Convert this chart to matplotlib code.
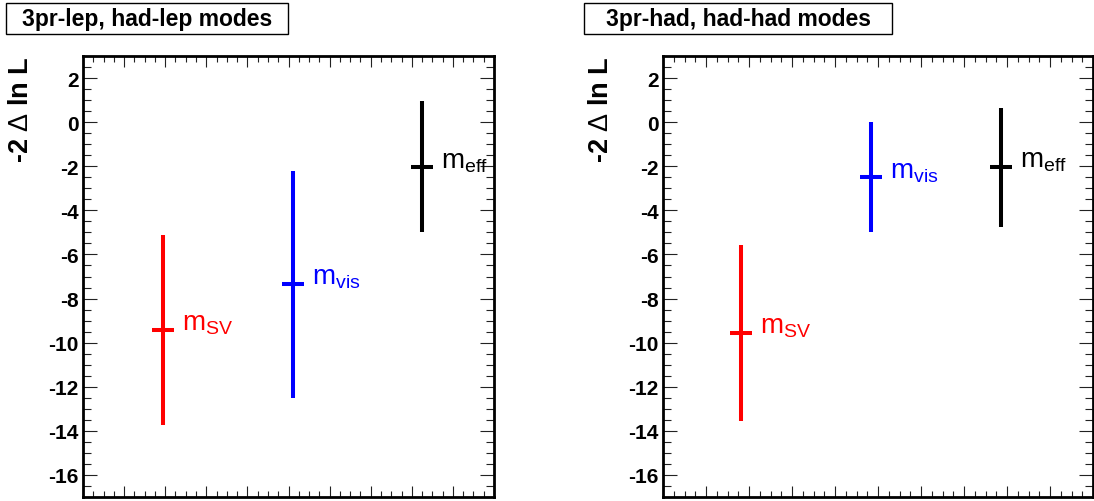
import numpy as np
import matplotlib
matplotlib.use("Agg")
import matplotlib.pyplot as plt
from matplotlib.patches import Rectangle
from matplotlib.ticker import MultipleLocator, NullFormatter

plt.rcParams['font.family'] = ['Liberation Sans', 'DejaVu Sans']
plt.rcParams['mathtext.fontset'] = 'custom'
plt.rcParams['mathtext.rm'] = 'Liberation Sans'
plt.rcParams['mathtext.it'] = 'Liberation Sans'
plt.rcParams['axes.unicode_minus'] = False

# data
panel_titles = ['3pr-lep, had-lep modes', '3pr-had, had-had modes']
labels = [r'$\mathrm{m}_{\mathrm{SV}}$', r'$\mathrm{m}_{\mathrm{vis}}$', r'$\mathrm{m}_{\mathrm{eff}}$']
colors = ['#ff0000', '#0000ff', '#000000']

x_left = [1.94, 5.10, 8.26]
center_left = [-9.42, -7.33, -2.05]
top_left = [-5.14, -2.2, 0.95]
bottom_left = [-13.74, -12.5, -4.99]

x_right = [1.82, 4.83, 7.85]
center_right = [-9.56, -2.5, -2.02]
top_right = [-5.59, 0.02, 0.63]
bottom_right = [-13.55, -4.96, -4.76]

panels = [
    (x_left, center_left, top_left, bottom_left),
    (x_right, center_right, top_right, bottom_right),
]

W, H = 1094, 502
fig = plt.figure(figsize=(W / 100, H / 100), dpi=100)

# axes boxes in pixels: (left, right, top, bottom)
boxes = [(83, 494, 57, 498), (663, 1093, 57, 498)]
title_boxes = [(6, 288, 4, 35), (584, 892, 4, 35)]

for i, (xs, cs, tops, bots) in enumerate(panels):
    l, r, t, b = boxes[i]
    ax = fig.add_axes([l / W, 1 - b / H, (r - l) / W, (b - t) / H])
    ax.set_xlim(0, 10)
    ax.set_ylim(-17, 3)

    for x, c, hi, lo, col, lab in zip(xs, cs, tops, bots, colors, labels):
        ax.errorbar([x], [c], yerr=[[c - lo], [hi - c]], fmt='_', color=col,
                    ecolor=col, elinewidth=2.9, capsize=0, markersize=16,
                    markeredgewidth=2.9)
        ax.annotate(lab, (x, c), xytext=(19, 0), textcoords='offset pixels',
                    color=col, fontsize=20, ha='left', va='baseline')

    ax.xaxis.set_major_locator(MultipleLocator(1))
    ax.xaxis.set_minor_locator(MultipleLocator(0.25))
    ax.xaxis.set_major_formatter(NullFormatter())
    ax.yaxis.set_major_locator(MultipleLocator(2))
    ax.yaxis.set_minor_locator(MultipleLocator(0.5))
    ax.tick_params(axis='both', which='both', direction='in', top=True, right=True,
                   color='#222222', width=0.8)
    ax.tick_params(axis='y', which='major', length=10, pad=3, labelsize=15)
    ax.tick_params(axis='y', which='minor', length=5.5)
    ax.tick_params(axis='x', which='major', length=8)
    ax.tick_params(axis='x', which='minor', length=4)
    for lbl in ax.get_yticklabels():
        lbl.set_fontweight('bold')
    for sp in ax.spines.values():
        sp.set_linewidth(2)

    # y title
    fig.text((l - 62) / W, 1 - 110 / H, r'-2 $\Delta$ ln L', rotation=90,
             ha='center', va='center', fontsize=19.5, fontweight='bold')

    # panel title box
    bx0, bx1, by0, by1 = title_boxes[i]
    fig.add_artist(Rectangle((bx0 / W, 1 - by1 / H), (bx1 - bx0) / W, (by1 - by0) / H,
                             transform=fig.transFigure, fill=False,
                             edgecolor='black', linewidth=1))
    fig.text((bx0 + bx1) / 2 / W, 1 - (by0 + by1) / 2 / H, panel_titles[i],
             ha='center', va='center', fontsize=16.5, fontweight='bold')

fig.savefig('out.png', dpi=100)
